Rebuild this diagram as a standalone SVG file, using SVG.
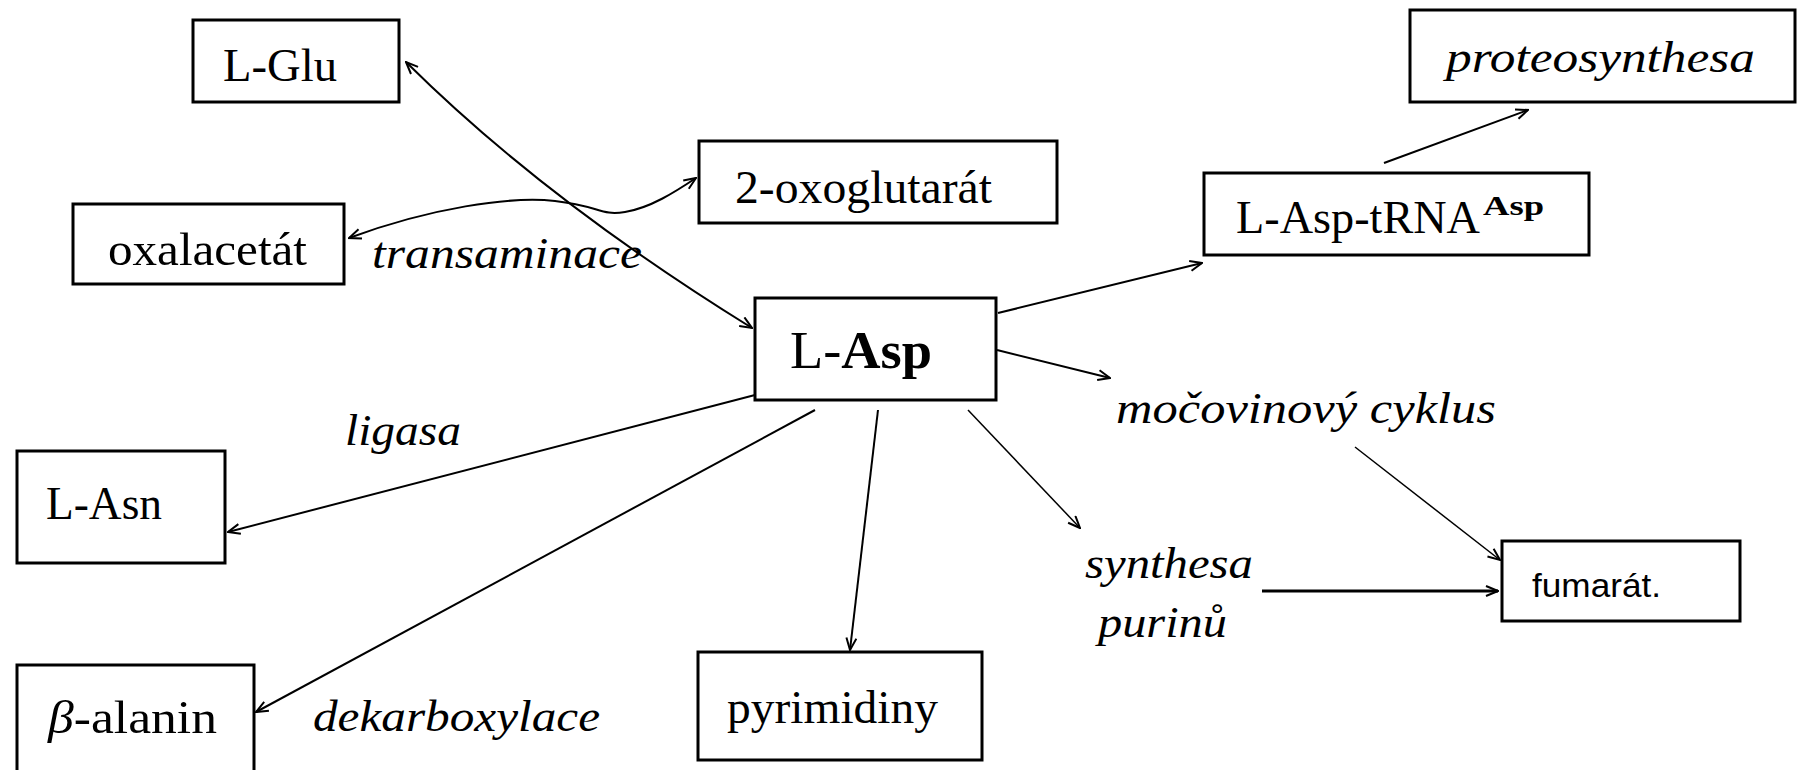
<svg xmlns="http://www.w3.org/2000/svg" width="1800" height="770" viewBox="0 0 1800 770">
<style>
.box{fill:#fff;stroke:#000;stroke-width:3}
.t{font-family:"Liberation Serif","Times New Roman",serif;font-size:44px;fill:#000}
.n{font-size:47px}
.i{font-style:italic}
.c{fill:none;stroke:#000;stroke-width:2}
.thin{stroke-width:1.5}
</style>
<defs>
<marker id="ah" viewBox="0 0 14 12" refX="13" refY="6" markerWidth="14" markerHeight="12" orient="auto-start-reverse" markerUnits="userSpaceOnUse">
<path d="M1,1 L13,6 L1,11" fill="none" stroke="#000" stroke-width="2"/>
</marker>
</defs>
<rect width="1800" height="770" fill="#fff"/>
<g id="connectors">
<path class="c" d="M406,62 Q545,200 752,328" marker-start="url(#ah)" marker-end="url(#ah)"/>
<path class="c" d="M349,238 C430,208 510,196 555,201 S600,216 625,212 S675,192 696,178" marker-start="url(#ah)" marker-end="url(#ah)"/>
<path class="c" d="M998,313 L1202,263" marker-end="url(#ah)"/>
<path class="c" d="M1384,163 L1528,110" marker-end="url(#ah)"/>
<path class="c" d="M997,350 L1110,378" marker-end="url(#ah)"/>
<path class="c thin" d="M968,410 L1080,528" marker-end="url(#ah)"/>
<path class="c" d="M755,395 L228,532" marker-end="url(#ah)"/>
<path class="c" d="M815,410 L256,712" marker-end="url(#ah)"/>
<path class="c" d="M878,410 L850,650" marker-end="url(#ah)"/>
<path class="c thin" d="M1355,447 L1500,560" marker-end="url(#ah)"/>
<path class="c" style="stroke-width:3" d="M1262,591 L1498,591" marker-end="url(#ah)"/>
</g>
<g id="n-lglu"><rect class="box" x="193" y="20" width="206" height="82"/><text class="t n" x="223" y="81" textLength="114" lengthAdjust="spacingAndGlyphs">L-Glu</text></g>
<g id="n-oxalacetat"><rect class="box" x="73" y="204" width="271" height="80"/><text class="t n" x="108" y="265" textLength="199" lengthAdjust="spacingAndGlyphs">oxalacetát</text></g>
<g id="n-oxoglutarat"><rect class="box" x="699" y="141" width="358" height="82"/><text class="t n" x="735" y="203" textLength="257" lengthAdjust="spacingAndGlyphs">2-oxoglutarát</text></g>
<g id="n-lasp"><rect class="box" x="755" y="298" width="241" height="102"/><text class="t" style="font-size:52px" x="790" y="368" textLength="142" lengthAdjust="spacingAndGlyphs">L-<tspan font-weight="bold">Asp</tspan></text></g>
<g id="n-trna"><rect class="box" x="1204" y="173" width="385" height="82"/><text class="t n" x="1236" y="233" textLength="244" lengthAdjust="spacingAndGlyphs">L-Asp-tRNA</text><text class="t" style="font-size:28px;font-weight:bold" x="1483" y="215" textLength="61" lengthAdjust="spacingAndGlyphs">Asp</text></g>
<g id="n-proteo"><rect class="box" x="1410" y="10" width="385" height="92"/><text class="t i" x="1446" y="72" textLength="309" lengthAdjust="spacingAndGlyphs">proteosynthesa</text></g>
<g id="n-lasn"><rect class="box" x="17" y="451" width="208" height="112"/><text class="t n" x="46" y="519" textLength="116" lengthAdjust="spacingAndGlyphs">L-Asn</text></g>
<g id="n-balanin"><rect class="box" x="17" y="665" width="237" height="120"/><text class="t n" x="48" y="733" textLength="169" lengthAdjust="spacingAndGlyphs"><tspan font-style="italic">β</tspan>-alanin</text></g>
<g id="n-pyrimidiny"><rect class="box" x="698" y="652" width="284" height="108"/><text class="t n" x="727" y="723" textLength="211" lengthAdjust="spacingAndGlyphs">pyrimidiny</text></g>
<g id="n-fumarat"><rect class="box" x="1502" y="541" width="238" height="80"/><text class="t" style="font-family:'Liberation Sans',Arial,sans-serif;font-size:33px" x="1532" y="597" textLength="129" lengthAdjust="spacingAndGlyphs">fumarát.</text></g>
<g id="labels">
<text class="t i" x="372" y="268" textLength="270" lengthAdjust="spacingAndGlyphs">transaminace</text>
<text class="t i" x="345" y="445" textLength="116" lengthAdjust="spacingAndGlyphs">ligasa</text>
<text class="t i" x="313" y="731" textLength="287" lengthAdjust="spacingAndGlyphs">dekarboxylace</text>
<text class="t i" x="1116" y="423" textLength="380" lengthAdjust="spacingAndGlyphs">močovinový cyklus</text>
<text class="t i" x="1085" y="578" textLength="168" lengthAdjust="spacingAndGlyphs">synthesa</text>
<text class="t i" x="1098" y="637" textLength="129" lengthAdjust="spacingAndGlyphs">purinů</text>
</g>
</svg>
